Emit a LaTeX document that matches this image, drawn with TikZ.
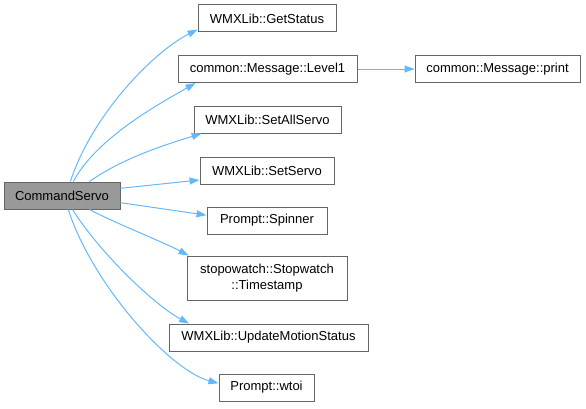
\documentclass[tikz,border=0pt]{standalone}
\usepackage{fontspec}
\setmainfont{Liberation Sans}
\usetikzlibrary{arrows.meta}

\definecolor{edgeblue}{HTML}{63B8FF}
\definecolor{boxline}{HTML}{666666}
\definecolor{rootfill}{HTML}{999999}

\begin{document}
\begin{tikzpicture}[x=1pt, y=1pt, >={Triangle[length=10pt, width=7pt]},
    font=\fontsize{13}{16}\selectfont,
    fnbox/.style={draw=boxline, fill=white, line width=1pt, minimum height=27pt,
        inner sep=0pt, align=center},
    rootbox/.style={fnbox, fill=rootfill},
    edge/.style={->, color=edgeblue, line width=1pt}]

    % 1. Obszar rysunku
    \useasboundingbox (0,0) rectangle (586,408);

    % 2. Funkcja wywolujaca
    \node[rootbox, minimum width=116pt] (root) at (62,212.5) {CommandServo};

    % 3. Funkcje wywolywane
    \node[fnbox, minimum width=138pt] (gs)  at (267,389.5)   {WMXLib::GetStatus};
    \node[fnbox, minimum width=179pt] (lvl) at (267.5,339)   {common::Message::Level1};
    \node[fnbox, minimum width=165pt] (prt) at (497.5,339)   {common::Message::print};
    \node[fnbox, minimum width=147pt] (sas) at (267.5,288.5) {WMXLib::SetAllServo};
    \node[fnbox, minimum width=134pt] (ss)  at (267,237.5)   {WMXLib::SetServo};
    \node[fnbox, minimum width=120pt] (sp)  at (267,187.5)   {Prompt::Spinner};
    \node[fnbox, minimum width=160pt, minimum height=44pt] (sw) at (267,130)
        {stopowatch::Stopwatch\\::Timestamp};
    \node[fnbox, minimum width=199pt] (ums) at (268.5,70.5)  {WMXLib::UpdateMotionStatus};
    \node[fnbox, minimum width=95pt]  (wt)  at (266.5,20.5)  {Prompt::wtoi};

    % 4. Krawedzie wywolan
    \draw[edge] (root.59) .. controls +(72:70) and +(207:50) .. (gs.189);
    \draw[edge] (root.51) .. controls +(62:50) and +(210:40) .. (lvl.191);
    \draw[edge] (root.27) .. controls +(35:40) and +(197:40) .. (sas.192);
    \draw[edge] (root.7) -- (ss.188);
    \draw[edge] (root.-7) -- (sp.175);
    \draw[edge] (root.-27) .. controls +(-28:30) and +(152:30) .. (sw.164);
    \draw[edge] (root.-53) .. controls +(-58:50) and +(152:40) .. (ums.170);
    \draw[edge] (root.-66) .. controls +(-72:80) and +(165:50) .. (wt.175);
    \draw[edge] (lvl) -- (prt);

\end{tikzpicture}
\end{document}
